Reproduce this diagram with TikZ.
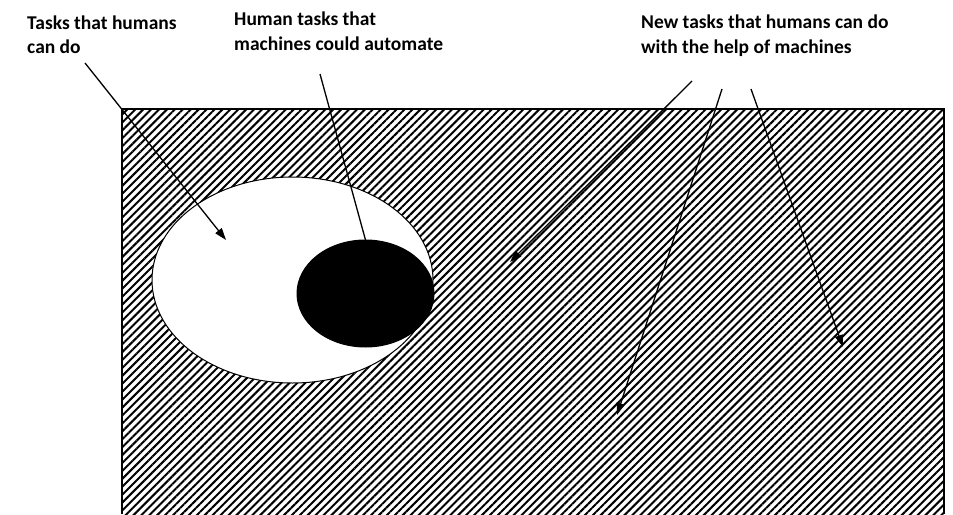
\documentclass[tikz,border=0pt]{standalone}
\usepackage{fontspec}
\setmainfont{Carlito}
\usetikzlibrary{patterns.meta,arrows.meta,shapes.geometric}
\begin{document}
\begin{tikzpicture}[x=1pt,y=-1pt,
  lbl/.style={anchor=base west,align=left,inner sep=0pt,font=\fontsize{19.5}{24.5}\selectfont\bfseries},
  pointer/.style={line width=1.3pt,-{Triangle[length=12pt,width=8pt]}},
  plainline/.style={line width=1.3pt},
  blob/.style={ellipse,draw,line width=1pt,inner sep=0pt,outer sep=0pt}]
\useasboundingbox (0,0) rectangle (953,514);
\fill[pattern={Lines[angle=45,distance=5.6pt,line width=2.0pt]}] (122,109) rectangle (944,514);
\draw[line width=1.2pt] (122,514) -- (122,109) -- (944,109) -- (944,514);
\node[blob,fill=white,minimum width=281pt,minimum height=206pt] (tasks) at (292.5,280) {};
\node[blob,fill=black,minimum width=137pt,minimum height=107pt] (automate) at (365.5,293.5) {};
\node[lbl] (l1) at (27,53.5) {Tasks that humans\\can do};
\node[lbl] (l2) at (234,50) {Human tasks that\\machines could automate};
\node[lbl] (l3) at (641,53) {New tasks that humans can do\\with the help of machines};
\coordinate (s1) at (85,63);  \coordinate (e1) at (226,240);
\coordinate (s2) at (320,74);
\coordinate (s3) at (692,81); \coordinate (e3) at (510,262);
\coordinate (s4) at (722,89); \coordinate (e4) at (617,415);
\coordinate (s5) at (751,89); \coordinate (e5) at (843,347);
\draw[pointer] (s1) -- (e1);
\draw[plainline] (s2) -- (automate.north);
\draw[pointer] (s3) -- (e3);
\draw[pointer] (s4) -- (e4);
\draw[pointer] (s5) -- (e5);
\end{tikzpicture}
\end{document}
